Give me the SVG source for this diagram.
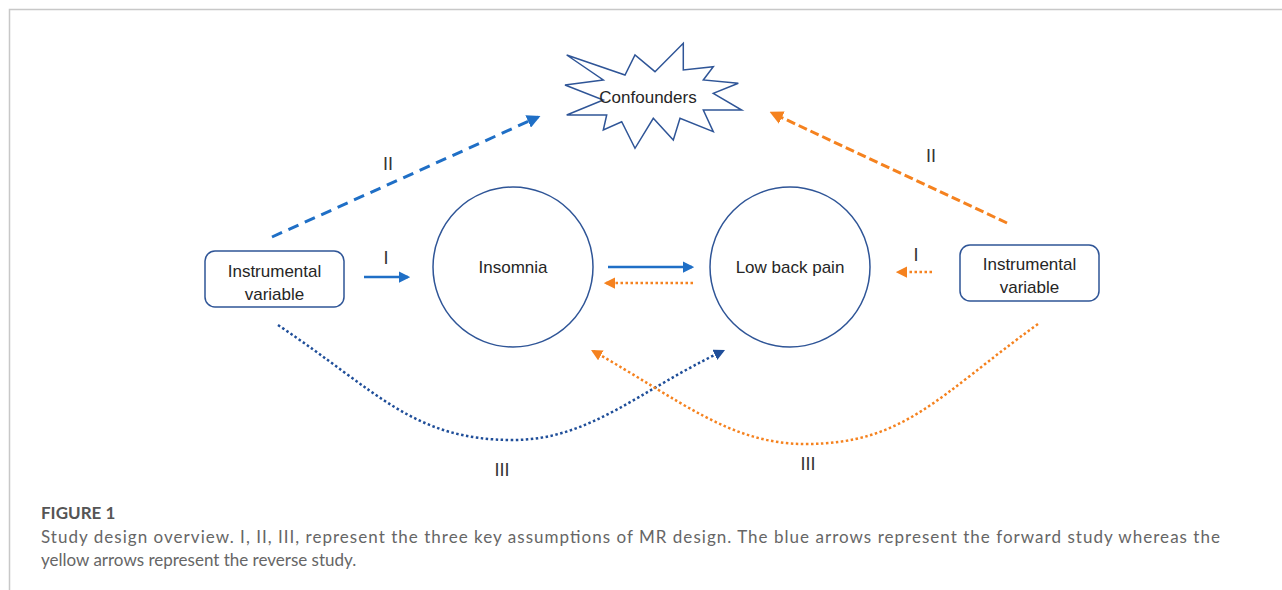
<svg xmlns="http://www.w3.org/2000/svg" width="1282" height="590" viewBox="0 0 1282 590">
<style>
.lbl{font-family:"Liberation Sans",Arial,sans-serif;font-size:17px;fill:#262626;text-anchor:middle}
.num{font-family:"Liberation Sans",Arial,sans-serif;font-size:18px;fill:#333;text-anchor:middle}
.node{fill:#fff;stroke:#2f5597;stroke-width:1.5}
.cap{font-family:Lato,"Open Sans",sans-serif;font-size:17px;fill:#666}
.fig{font-family:Lato,"Open Sans",sans-serif;font-size:17px;fill:#555;font-weight:bold}
.blue{stroke:#1f6fc6;fill:none;stroke-width:2.5}
.dblue{stroke:#1f4e99;fill:none;stroke-width:2.5;stroke-dasharray:2.5 2.5}
.orange{stroke:#f5821f;fill:none;stroke-width:2.5;stroke-dasharray:2.5 2.5}
.odash{stroke:#f5821f;fill:none;stroke-width:3;stroke-dasharray:9 4}
.bdash{stroke:#1f6fc6;fill:none;stroke-width:3;stroke-dasharray:11 7}
</style>
<defs>
<marker id="aB" viewBox="0 0 10 10" refX="8" refY="5" markerWidth="4.5" markerHeight="4.5" orient="auto" markerUnits="strokeWidth"><path d="M0,0 L10,5 L0,10 z" fill="#1f6fc6"/></marker>
<marker id="aD" viewBox="0 0 10 10" refX="8" refY="5" markerWidth="4.5" markerHeight="4.5" orient="auto" markerUnits="strokeWidth"><path d="M0,0 L10,5 L0,10 z" fill="#1f4e99"/></marker>
<marker id="aO" viewBox="0 0 10 10" refX="8" refY="5" markerWidth="4.5" markerHeight="4.5" orient="auto" markerUnits="strokeWidth"><path d="M0,0 L10,5 L0,10 z" fill="#f5821f"/></marker>
</defs>
<rect width="1282" height="590" fill="#fff"/>
<g id="frame" stroke="#c8c8c8" stroke-width="1.5" fill="none">
<path d="M9.5,590 L9.5,9.5 L1282,9.5"/>
</g>
<g id="confounders">
<polygon class="node" points="566.7,55 625,75 635,55 655,71.7 683.3,43.3 683.3,70 713.3,66.7 703.3,80 738.3,83.3 713.3,93.3 741.7,110 703.3,110 713.3,131.7 680,118.3 673.3,140 653.3,118.3 635,148.3 621.7,121.7 603.3,130 606.7,115 566.7,115 603.3,100 565,85 603.3,80"/>
<text class="lbl" x="648" y="103">Confounders</text>
</g>
<g id="insomnia">
<circle class="node" cx="513" cy="267" r="80"/>
<text class="lbl" x="513" y="273">Insomnia</text>
</g>
<g id="lbp">
<circle class="node" cx="790" cy="267" r="80"/>
<text class="lbl" x="790" y="273">Low back pain</text>
</g>
<g id="iv-left">
<rect class="node" x="205" y="251" width="139" height="56" rx="10"/>
<text class="lbl" x="274.5" y="277">Instrumental</text>
<text class="lbl" x="274.5" y="300">variable</text>
</g>
<g id="iv-right">
<rect class="node" x="960" y="245" width="139" height="56" rx="10"/>
<text class="lbl" x="1029.5" y="270">Instrumental</text>
<text class="lbl" x="1029.5" y="293">variable</text>
</g>
<g id="connectors">
<line class="blue" x1="364" y1="277" x2="408" y2="277" marker-end="url(#aB)"/>
<line class="blue" x1="608" y1="267" x2="692" y2="267" marker-end="url(#aB)"/>
<line class="orange" x1="693" y1="283" x2="606" y2="283" marker-end="url(#aO)"/>
<line class="orange" x1="932" y1="272" x2="898" y2="272" marker-end="url(#aO)"/>
<line class="bdash" x1="272" y1="237" x2="538" y2="117" marker-end="url(#aB)"/>
<line class="odash" x1="1007" y1="223" x2="772" y2="113" marker-end="url(#aO)"/>
<path class="dblue" d="M278,325 C378,392 413,440 513,440 C590,440 640,390 723,351" marker-end="url(#aD)"/>
<path class="orange" d="M1038,324 C938,396 905,444 805,444 C730,444 680,400 593,351" marker-end="url(#aO)"/>
<text class="num" x="386" y="264">I</text>
<text class="num" x="916" y="261">I</text>
<text class="num" x="388" y="170">II</text>
<text class="num" x="931" y="162">II</text>
<text class="num" x="502" y="476">III</text>
<text class="num" x="808" y="470">III</text>
</g>
<g id="caption">
<text class="fig" x="41" y="519">FIGURE 1</text>
<text class="cap" x="41" y="543" textLength="1179" lengthAdjust="spacing">Study design overview. I, II, III, represent the three key assumptions of MR design. The blue arrows represent the forward study whereas the</text>
<text class="cap" x="41" y="566">yellow arrows represent the reverse study.</text>
</g>
</svg>
